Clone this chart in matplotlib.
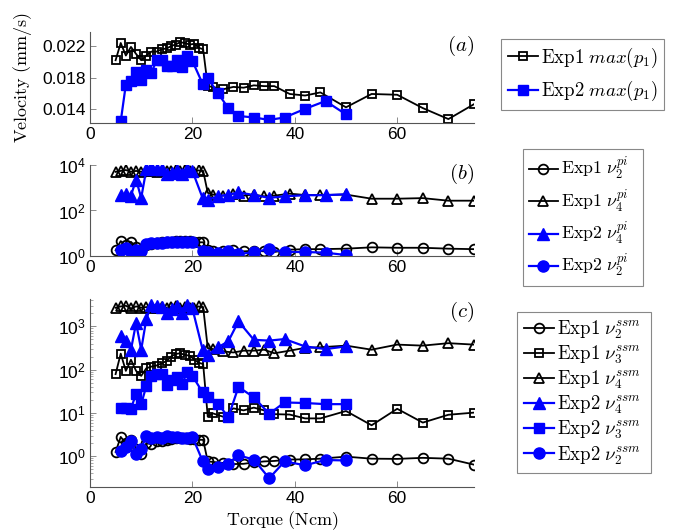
import matplotlib
matplotlib.use("Agg")
import matplotlib.pyplot as plt
from matplotlib.ticker import LogLocator, NullLocator, LogFormatterMathtext, NullFormatter

plt.rcParams['font.family'] = ['Liberation Sans', 'DejaVu Sans']
plt.rcParams['mathtext.fontset'] = 'cm'

# ---- data ----
x1 = [5, 6, 7, 8, 9, 10, 11, 12, 13, 14, 15, 15.8, 16.7, 17.6, 18.5, 19.5, 20.4, 21.2, 22.1,
      23, 24, 26, 28, 30, 32, 34, 36, 39, 42, 45, 50, 55, 60, 65, 70, 75]
x2 = [6, 7, 8, 9, 10, 11, 12, 13, 14, 15, 16, 17, 18, 19, 20, 22, 23, 25, 27, 29, 32, 35, 38, 42, 46, 50]

a_exp1 = [0.0202, 0.0224, 0.0208, 0.0219, 0.0210, 0.0202, 0.0208, 0.0213, 0.0213, 0.0216, 0.0217,
          0.0220, 0.0222, 0.0225, 0.0224, 0.0222, 0.0223, 0.0218, 0.0216,
          0.0169, 0.0168, 0.0165, 0.0168, 0.0167, 0.0170, 0.0169, 0.0169, 0.0159, 0.0157, 0.0161,
          0.0142, 0.0159, 0.0158, 0.0141, 0.0127, 0.0146]
a_exp2 = [0.0124, 0.0171, 0.0176, 0.0187, 0.0177, 0.0189, 0.0186, 0.0202, 0.0202, 0.0195, 0.0195,
          0.0202, 0.0193, 0.0207, 0.0201, 0.0172, 0.0179, 0.0160, 0.0141, 0.0131, 0.0129, 0.0126,
          0.0129, 0.0140, 0.0150, 0.0133]

b_e1_nu2 = [1.8, 4.5, 3.0, 4.2, 2.5, 1.8, 3.0, 3.5, 3.8, 4.0, 4.0, 4.2, 4.5, 4.8, 4.6, 4.5, 4.2, 4.0, 4.0,
            1.8, 1.6, 1.7, 1.8, 1.6, 1.7, 1.6, 1.5, 1.9, 2.0, 2.0, 2.1, 2.4, 2.3, 2.3, 2.1, 2.0]
b_e1_nu4 = [5000, 5500, 6000, 5000, 5500, 5000, 5500, 5200, 5000, 5500, 5200, 5600, 5800, 5500, 5800,
            5500, 5000, 5800, 5500,
            600, 500, 450, 550, 450, 500, 420, 450, 550, 480, 480, 500, 330, 330, 350, 270, 270]
b_e2_nu4 = [500, 520, 450, 2300, 355, 6400, 8500, 7000, 6500, 4000, 4500, 6000, 4200, 6500, 5500,
            350, 300, 420, 500, 620, 480, 360, 420, 470, 470, 520]
b_e2_nu2 = [1.8, 2.2, 1.5, 1.8, 1.6, 3.5, 3.8, 3.6, 3.8, 4.0, 4.0, 4.2, 4.0, 4.3, 4.0,
            1.6, 1.5, 1.3, 1.7, 1.2, 1.5, 2.0, 1.5, 1.5, 1.4, 1.1]

c_e1_nu2 = [1.26, 2.8, 2.0, 2.4, 1.5, 1.1, 2.0, 1.9, 2.2, 2.3, 2.4, 2.5, 2.6, 2.7, 2.6, 2.5, 2.5, 2.4, 2.4,
            0.76, 0.74, 0.70, 0.66, 0.67, 0.72, 0.76, 0.78, 0.84, 0.85, 0.88, 0.98, 0.88, 0.87, 0.92, 0.88, 0.64]
c_e1_nu3 = [79, 235, 94, 170, 94, 72, 108, 118, 125, 140, 160, 200, 230, 240, 220, 210, 170, 145, 135,
            8.2, 9.8, 8.2, 12.8, 11.5, 13.3, 11.5, 9.4, 9.2, 7.5, 7.5, 11.1, 5.2, 12.5, 6.0, 9.1, 10.2]
c_e1_nu4 = [2700, 2900, 3000, 2600, 2900, 2700, 2800, 2600, 2700, 2800, 2700, 2800, 2900, 2700, 2800,
            2700, 2600, 2900, 2800,
            315, 300, 265, 250, 275, 275, 290, 240, 275, 320, 330, 360, 290, 380, 360, 410, 380]
c_e2_nu4 = [610, 450, 290, 1200, 290, 1480, 3200, 3000, 2800, 2050, 2500, 3000, 2050, 3200, 2600,
            290, 220, 330, 450, 1310, 490, 470, 510, 345, 300, 345]
c_e2_nu3 = [13, 13, 12.5, 28, 16, 42, 72, 79, 80, 45, 58, 69, 47, 90, 72,
            30, 24, 16.5, 8, 40, 23, 9.6, 17.5, 17, 16, 16]
c_e2_nu2 = [1.3, 1.6, 2.2, 1.15, 1.5, 2.9, 2.7, 2.8, 2.7, 2.9, 2.8, 2.8, 2.7, 2.7, 2.8,
            0.78, 0.52, 0.56, 0.68, 1.05, 0.84, 0.31, 0.76, 0.62, 0.82, 0.80]

xticks = [0, 20, 40, 60]

# ---- figure ----
W, H = 674, 531
fig = plt.figure(figsize=(W / 100, H / 100), dpi=100)

def ax_at(l, t, r, b):
    return fig.add_axes([l / W, 1 - b / H, (r - l) / W, (b - t) / H])

axa = ax_at(90, 32, 474, 123)
axb = ax_at(90, 165, 474, 256)
axc = ax_at(90, 299, 474, 487)

blk = dict(color='black', lw=1.3, mfc='none', mec='black', mew=1.3)
blu = dict(color='#0000ff', lw=1.6, mfc='#0000ff', mec='#0000ff')

def style(ax):
    for s in ['top', 'right']:
        ax.spines[s].set_visible(False)
    for s in ['left', 'bottom']:
        ax.spines[s].set_color('#555555')
        ax.spines[s].set_linewidth(0.8)
    ax.set_xlim(0, 75)
    ax.set_xticks(xticks)
    ax.tick_params(direction='in', length=4, width=0.6, color='#777777', labelsize=12.5, pad=3)
    ax.tick_params(which='minor', direction='in', length=2, width=0.5, color='#888888')

# Panel (a)
axa.plot(x1, a_exp1, marker='s', ms=6, label=r'$\mathrm{Exp1}\ max(p_1)$', **blk)
axa.plot(x2, a_exp2, marker='s', ms=7, label=r'$\mathrm{Exp2}\ max(p_1)$', **blu)
style(axa)
axa.set_ylim(0.0122, 0.0238)
axa.set_yticks([0.014, 0.018, 0.022])
axa.set_yticklabels(['0.014', '0.018', '0.022'])
axa.set_ylabel(r'$\mathrm{Velocity\ (mm/s)}$', fontsize=13, labelpad=6)
axa.text(1.0, 0.85, r'$(a)$', transform=axa.transAxes, fontsize=15, ha='right', va='center', clip_on=False)

# Panel (b)
axb.plot(x1, b_e1_nu2, marker='o', ms=7, label=r'$\mathrm{Exp1}\ \nu_2^{pi}$', **blk)
axb.plot(x1, b_e1_nu4, marker='^', ms=7, label=r'$\mathrm{Exp1}\ \nu_4^{pi}$', **blk)
axb.plot(x2, b_e2_nu4, marker='^', ms=8, label=r'$\mathrm{Exp2}\ \nu_4^{pi}$', **blu)
axb.plot(x2, b_e2_nu2, marker='o', ms=8, label=r'$\mathrm{Exp2}\ \nu_2^{pi}$', **blu)
axb.set_yscale('log')
style(axb)
axb.set_ylim(1, 1e4)
axb.yaxis.set_major_locator(LogLocator(base=100, numticks=5))
axb.yaxis.set_major_formatter(LogFormatterMathtext(base=10))
axb.yaxis.set_minor_locator(NullLocator())
axb.text(1.0, 0.9, r'$(b)$', transform=axb.transAxes, fontsize=15, ha='right', va='center', clip_on=False)

# Panel (c)
axc.plot(x1, c_e1_nu2, marker='o', ms=7, label=r'$\mathrm{Exp1}\ \nu_2^{ssm}$', **blk)
axc.plot(x1, c_e1_nu3, marker='s', ms=6, label=r'$\mathrm{Exp1}\ \nu_3^{ssm}$', **blk)
axc.plot(x1, c_e1_nu4, marker='^', ms=7, label=r'$\mathrm{Exp1}\ \nu_4^{ssm}$', **blk)
axc.plot(x2, c_e2_nu4, marker='^', ms=8, label=r'$\mathrm{Exp2}\ \nu_4^{ssm}$', **blu)
axc.plot(x2, c_e2_nu3, marker='s', ms=7, label=r'$\mathrm{Exp2}\ \nu_3^{ssm}$', **blu)
axc.plot(x2, c_e2_nu2, marker='o', ms=8, label=r'$\mathrm{Exp2}\ \nu_2^{ssm}$', **blu)
axc.set_yscale('log')
style(axc)
axc.set_ylim(0.195, 4300)
axc.yaxis.set_major_locator(LogLocator(base=10, numticks=10))
axc.yaxis.set_major_formatter(LogFormatterMathtext(base=10))
axc.yaxis.set_minor_locator(LogLocator(base=10, subs=range(2, 10), numticks=10))
axc.yaxis.set_minor_formatter(NullFormatter())
axc.set_xlabel(r'$\mathrm{Torque\ (Ncm)}$', fontsize=13, labelpad=2)
axc.text(1.0, 0.93, r'$(c)$', transform=axc.transAxes, fontsize=15, ha='right', va='center', clip_on=False)

def leg(ax, x0, y0, x1_, spacing, fs=13.5):
    lg = ax.legend(loc='upper left', bbox_to_anchor=(x0 / W, 1 - y0 / H, (x1_ - x0) / W, 0.0),
                   bbox_transform=fig.transFigure, borderaxespad=0, fancybox=False, mode='expand',
                   framealpha=1, edgecolor='#888888', fontsize=fs, handlelength=1.6,
                   handletextpad=0.2, labelspacing=spacing, borderpad=0.35)
    lg.get_frame().set_linewidth(0.8)
    return lg

leg(axa, 501, 39, 664, 0.5)
leg(axb, 523, 149, 643, 0.3, fs=12.8)
leg(axc, 517, 312, 651, 0.12)

fig.savefig('out.png', dpi=100, facecolor='white')
